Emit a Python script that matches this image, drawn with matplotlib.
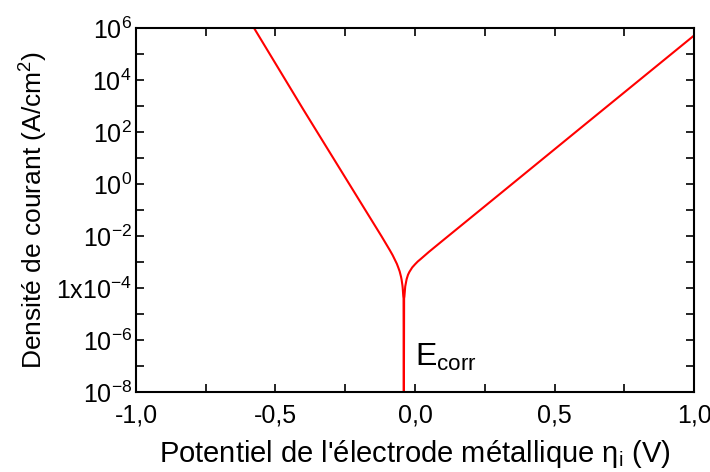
import matplotlib.pyplot as plt
import numpy as np

plt.rcParams['font.family'] = ['Liberation Sans', 'DejaVu Sans']
plt.rcParams['mathtext.fontset'] = 'custom'
plt.rcParams['mathtext.rm'] = 'Liberation Sans'
plt.rcParams['mathtext.it'] = 'Liberation Sans:italic'

# potentiel (V) et log10 de la densité de courant
eta = [-0.577, -0.40, -0.30, -0.20, -0.12, -0.10, -0.09, -0.08, -0.07, -0.065,
       -0.06, -0.055, -0.05, -0.048, -0.045, -0.044, -0.042, -0.041, -0.040,
       -0.039, -0.038, -0.035, -0.03, -0.025, -0.02, -0.01, -0.005, 0.0,
       0.01, 0.02, 0.05, 0.10, 0.30, 0.60, 1.0]
log_i = [6.0, 2.86, 1.12, -0.62, -2.01, -2.37, -2.55, -2.74, -2.96, -3.07,
         -3.21, -3.36, -3.57, -3.68, -3.90, -4.0, -4.31, -4.40, -9.0,
         -4.40, -4.33, -3.94, -3.66, -3.49, -3.38, -3.21, -3.15, -3.09,
         -2.98, -2.89, -2.61, -2.17, -0.42, 2.21, 5.71]

yticks = [1e-8, 1e-6, 1e-4, 1e-2, 1e0, 1e2, 1e4, 1e6]
ytick_labels = [r'$10^{-8}$', r'$10^{-6}$', r'$1\mathrm{x}10^{-4}$', r'$10^{-2}$',
                r'$10^{0}$', r'$10^{2}$', r'$10^{4}$', r'$10^{6}$']
xticks = [-1.0, -0.5, 0.0, 0.5, 1.0]
xtick_labels = ['-1,0', '-0,5', '0,0', '0,5', '1,0']

fig = plt.figure(figsize=(7.1, 4.72), dpi=100)
ax = fig.add_axes([0.1915, 0.1695, 0.786, 0.7712])

ax.plot(eta, 10.0 ** np.array(log_i), color='red', lw=1.5)

ax.set_yscale('log')
ax.set_xlim(-1.0, 1.0)
ax.set_ylim(1e-8, 1e6)

ax.set_xticks(xticks)
ax.set_xticklabels(xtick_labels)
ax.set_xticks(np.arange(-1.0, 1.01, 0.25), minor=True)
ax.set_yticks(yticks)
ax.set_yticklabels(ytick_labels)
ax.set_yticks([10.0 ** k for k in range(-8, 7)], minor=True)
ax.yaxis.set_minor_formatter(plt.NullFormatter())

ax.tick_params(which='both', direction='in', top=True, right=True,
               length=6, width=1.2, labelsize=18)
ax.tick_params(axis='x', pad=8)
ax.tick_params(axis='y', pad=3)
for s in ax.spines.values():
    s.set_linewidth(1.5)

ax.set_xlabel(r"Potentiel de l'électrode métallique $\mathrm{η}_{\mathrm{i}}$ (V)",
              fontsize=21, labelpad=8)
ax.set_ylabel(r'Densité de courant (A/cm$^{2}$)', fontsize=19, labelpad=4)

ax.text(0.0, 10 ** -7.0, r'E$_{\mathrm{corr}}$', fontsize=23)

fig.savefig('out.png', dpi=100)
